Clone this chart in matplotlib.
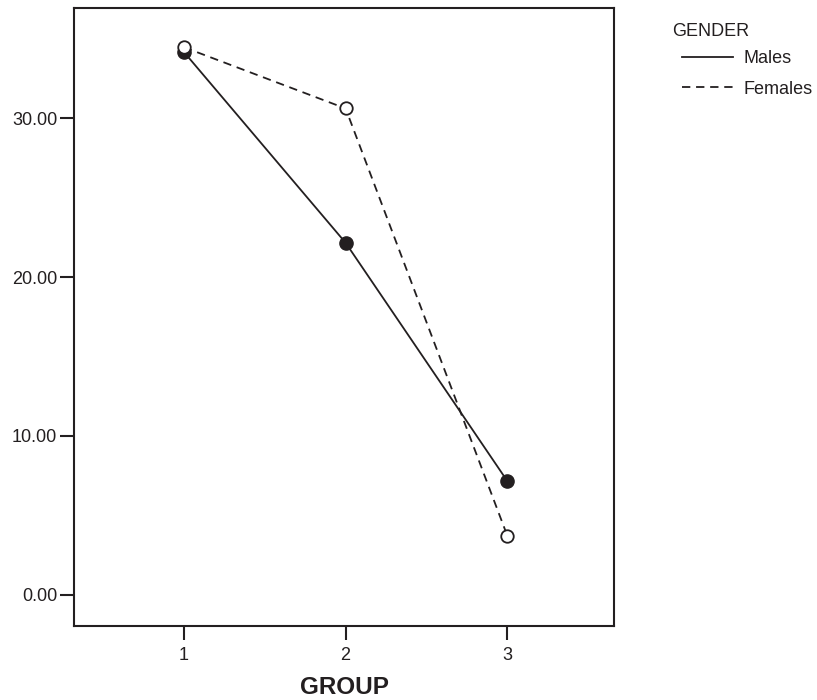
import numpy as np
import matplotlib.pyplot as plt
from matplotlib.lines import Line2D

plt.rcParams['font.family'] = ['Liberation Sans', 'DejaVu Sans']

groups = [1, 2, 3]
males = [34.15, 22.15, 7.17]
females = [34.45, 30.6, 3.73]
ink = '#231f20'

fig = plt.figure(figsize=(8.17, 7.0), dpi=100)
ax = fig.add_axes([74 / 817, 1 - 626 / 700, 540 / 817, 618.5 / 700])

# Males: solid line, filled circles
ax.plot(groups, males, color=ink, lw=1.3, ls='-', marker='o', ms=9.5,
        markerfacecolor=ink, markeredgecolor=ink, zorder=3)
# Females: dashed line, open circles
ax.plot(groups, females, color=ink, lw=1.3, ls=(0, (4.6, 3.2)), marker='o', ms=9,
        markerfacecolor='white', markeredgecolor=ink, markeredgewidth=1.3, zorder=4)

ax.set_xlim(0.32, 3.66)
ax.set_ylim(-1.95, 36.95)
ax.set_xticks(groups)
ax.set_xticklabels([str(g) for g in groups])
ax.set_yticks([0, 10, 20, 30])
ax.set_yticklabels(['%.2f' % v for v in [0, 10, 20, 30]])

for s in ax.spines.values():
    s.set_linewidth(1.5)
    s.set_color(ink)
ax.tick_params(axis='both', direction='out', length=10, width=1.5, color=ink,
               labelsize=13, labelcolor=ink)
ax.tick_params(axis='y', pad=2)
ax.tick_params(axis='x', pad=5)

ax.set_xlabel('GROUP', fontsize=17.5, fontweight='bold', color=ink, labelpad=9)

# legend
fig.text(672 / 817, 1 - 31 / 700, 'GENDER', fontsize=13, color=ink, va='center', ha='left')
handles = [Line2D([], [], color=ink, lw=1.3, ls='-'),
           Line2D([], [], color=ink, lw=1.3, ls=(0, (4.6, 3.2)))]
fig.legend(handles, ['Males', 'Females'], loc='upper left',
           bbox_to_anchor=(682 / 817, 1 - 50 / 700), frameon=False, fontsize=13,
           handlelength=2.8, handletextpad=0.6, labelspacing=0.75, borderpad=0,
           borderaxespad=0, labelcolor=ink)

fig.savefig('out.png', dpi=100)
